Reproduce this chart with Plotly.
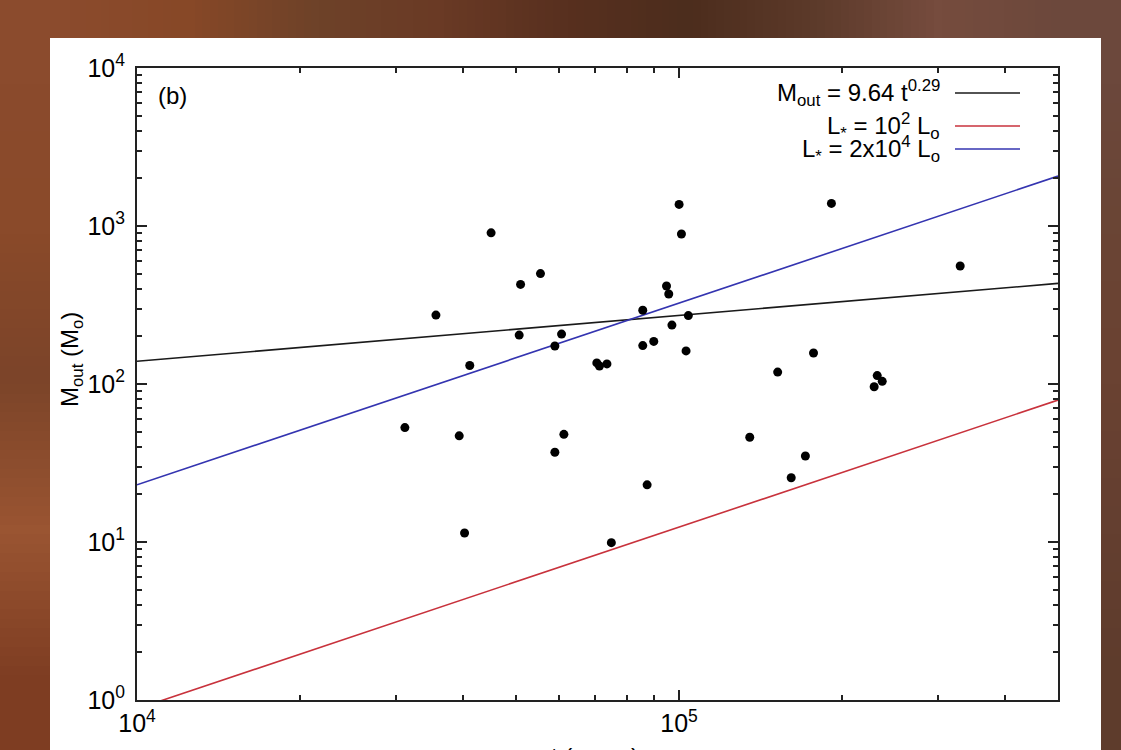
import base64
import struct
import zlib

import plotly.graph_objects as go

# Outflow mass versus dynamical age for the sample of sources
age_yr = [1.00e5, 1.01e5, 4.5e4, 5.1e4, 5.55e4, 3.56e4, 9.48e4, 9.57e4, 8.57e4, 1.04e5,
          9.7e4, 5.07e4, 6.07e4, 5.9e4, 8.57e4, 8.98e4, 1.03e5, 4.11e4, 7.05e4, 7.13e4,
          7.36e4, 3.12e4, 3.93e4, 6.13e4, 5.9e4, 8.73e4, 1.91e5, 3.3e5, 1.77e5, 1.52e5,
          2.32e5, 2.37e5, 2.29e5, 1.35e5, 1.71e5, 1.61e5, 4.02e4, 7.5e4]
m_out = [1370, 890, 905, 427, 500, 273, 417, 371, 293, 271,
         236, 204, 207, 174, 175, 186, 162, 131, 136, 130,
         134, 53, 47, 48, 37, 23, 1390, 558, 157, 119,
         113, 104, 96, 46, 35, 25.5, 11.4, 9.9]

# Power-law relations M = a * t^b
fit_labels = ["M<sub>out</sub> = 9.64 t<sup>0.29</sup>",
              "L<sub>*</sub> = 10<sup>2</sup> L<sub>o</sub>",
              "L<sub>*</sub> = 2x10<sup>4</sup> L<sub>o</sub>"]
fit_coef = [9.64, 2.21e-5, 5.78e-4]
fit_index = [0.29, 1.15, 1.15]
fit_colors = ["#1a1a1a", "#c8323c", "#3434b0"]

t_range = [1e4, 5e5]
x_tickvals = [1e4, 1e5]
x_ticktext = ["10<sup>4</sup>", "10<sup>5</sup>"]
x_minor = [k * 1e4 for k in range(2, 10)] + [k * 1e5 for k in range(2, 6)]
y_tickvals = [1, 10, 100, 1000, 10000]
y_ticktext = ["10<sup>0</sup>", "10<sup>1</sup>", "10<sup>2</sup>", "10<sup>3</sup>", "10<sup>4</sup>"]
y_minor = [k * 10 ** e for e in range(0, 4) for k in range(2, 10)]

FONT = "Liberation Sans, Arial, sans-serif"
W, H = 1121, 750
L, R, T, B = 137, 63, 68, 50
PW, PH = W - L - R, H - T - B


def px_x(p):
    return (p - L) / PW


def px_y(p):
    return (H - B - p) / PH


def png_uri(rows):
    """Encode a small RGB grid as a PNG data URI."""
    h, w = len(rows), len(rows[0])
    raw = b"".join(b"\x00" + bytes(c for px in row for c in px) for row in rows)

    def chunk(tag, data):
        body = tag + data
        return struct.pack(">I", len(data)) + body + struct.pack(">I", zlib.crc32(body) & 0xFFFFFFFF)

    png = (b"\x89PNG\r\n\x1a\n" + chunk(b"IHDR", struct.pack(">IIBBBBB", w, h, 8, 2, 0, 0, 0))
           + chunk(b"IDAT", zlib.compress(raw)) + chunk(b"IEND", b""))
    return "data:image/png;base64," + base64.b64encode(png).decode()


def hexrgb(s):
    s = s.lstrip("#")
    return tuple(int(s[i:i + 2], 16) for i in (0, 2, 4))


backdrop = [
    ["#8b4b2d", "#874827", "#6e4229", "#6a3a25", "#58301f", "#4c2d1d", "#5c3a2a", "#764c3e", "#6c483c"],
    ["#8a4a2a", "#7e4428", "#704030", "#704030", "#704030", "#704030", "#704030", "#6c4636", "#6a4535"],
    ["#7c4429", "#7e4428", "#704030", "#704030", "#704030", "#704030", "#704030", "#6a4232", "#6a4232"],
    ["#9a5532", "#8e4c2c", "#704030", "#704030", "#704030", "#704030", "#704030", "#654030", "#643f30"],
    ["#7e3d22", "#7a3d24", "#704030", "#704030", "#704030", "#704030", "#704030", "#5e3c2c", "#5e3c2c"],
]
backdrop_uri = png_uri([[hexrgb(c) for c in row] for row in backdrop])

fig = go.Figure()

for label, a, b, color in zip(fit_labels, fit_coef, fit_index, fit_colors):
    fig.add_trace(go.Scatter(
        x=t_range, y=[a * t ** b for t in t_range], mode="lines",
        line=dict(color=color, width=1.6), name=label, showlegend=False, hoverinfo="skip"))

fig.add_trace(go.Scatter(
    x=age_yr, y=m_out, mode="markers",
    marker=dict(color="black", size=9), showlegend=False))

axis_common = dict(
    type="log", showgrid=False, zeroline=False, showline=True, linewidth=2,
    linecolor="#222", mirror="allticks", ticks="inside", ticklen=10, tickwidth=1.5,
    tickcolor="#222", tickfont=dict(family=FONT, size=25, color="black"),
)

fig.update_xaxes(
    range=[4, 5.69897], tickmode="array", tickvals=x_tickvals, ticktext=x_ticktext,
    minor=dict(tickmode="array", tickvals=x_minor, ticks="inside", ticklen=5,
               tickwidth=1.5, tickcolor="#222", showgrid=False),
    **axis_common)
fig.update_yaxes(
    range=[0, 4], tickmode="array", tickvals=y_tickvals, ticktext=y_ticktext,
    ticklabelstandoff=5,
    minor=dict(tickmode="array", tickvals=y_minor, ticks="inside", ticklen=5,
               tickwidth=1.5, tickcolor="#222", showgrid=False),
    **axis_common)

shapes = [dict(type="rect", xref="paper", yref="paper", layer="below",
               x0=px_x(50), x1=px_x(1101), y0=px_y(760), y1=px_y(38),
               fillcolor="white", line=dict(width=0))]

annotations = [
    dict(text="(b)", xref="paper", yref="paper", x=px_x(156), y=px_y(95),
         xanchor="left", yanchor="middle", showarrow=False,
         font=dict(family=FONT, size=24, color="black")),
    dict(text="M<sub>out</sub> (M<sub>o</sub>)", xref="paper", yref="paper",
         x=px_x(71), y=px_y(360), textangle=-90, xanchor="center", yanchor="middle",
         showarrow=False, font=dict(family=FONT, size=24, color="black")),
    dict(text="t (years)", xref="paper", yref="paper", x=px_x(595), y=px_y(741),
         xanchor="center", yanchor="top", showarrow=False,
         font=dict(family=FONT, size=24, color="black")),
]

key_rows = [93, 126, 149]
for label, color, row in zip(fit_labels, fit_colors, key_rows):
    shapes.append(dict(type="line", xref="paper", yref="paper",
                       x0=px_x(955), x1=px_x(1020), y0=px_y(row), y1=px_y(row),
                       line=dict(color=color, width=1.6)))
    annotations.append(dict(text=label, xref="paper", yref="paper",
                            x=px_x(942), y=px_y(row), xanchor="right", yanchor="middle",
                            showarrow=False, font=dict(family=FONT, size=24, color="black")))

fig.update_layout(
    width=W, height=H, margin=dict(l=L, r=R, t=T, b=B, autoexpand=False),
    paper_bgcolor="#704030", plot_bgcolor="white",
    shapes=shapes, annotations=annotations,
    images=[dict(source=backdrop_uri, xref="paper", yref="paper",
                 x=px_x(0), y=px_y(0), sizex=W / PW, sizey=H / PH,
                 xanchor="left", yanchor="top", sizing="stretch", layer="below")],
)

fig.write_html("out.html")
